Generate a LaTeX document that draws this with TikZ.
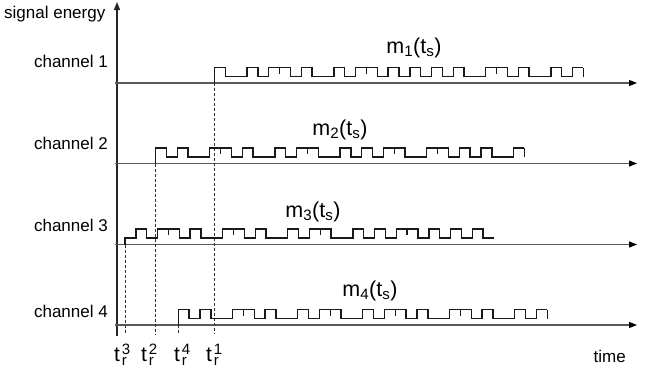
\documentclass[tikz,border=0pt]{standalone}
\usepackage{fontspec}
\setmainfont{Liberation Sans}
\usetikzlibrary{arrows.meta}
\def\wbw{10.85}
\def\whi{15.5}
\def\wlo{6.5}
\def\wtk{9.5}
\newcommand{\drawwave}[3]{%
  \draw[wave] (#1,#2) \foreach \b [count=\k from 0] in {#3} {
     -- ({#1+\k*\wbw},{#2-(\b==1?\whi:\wlo)}) -- ({#1+(\k+1)*\wbw},{#2-(\b==1?\whi:\wlo)})
  };
  \foreach \b [count=\k from 0, remember=\b as \prev (initially 0)] in {#3} {
    \ifnum\b\prev=11 \draw[wave] ({#1+\k*\wbw},{#2-\whi}) -- ({#1+\k*\wbw},{#2-\wtk}); \fi
  }
}
\begin{document}
\begin{tikzpicture}[x=1pt,y=-1pt,
  wave/.style={line width=1.4pt,black!90,line join=miter},
  hline/.style={line width=1.2pt,black!65,-{Triangle[length=8pt,width=6pt,color=black]}},
  vline/.style={line width=1.1pt,black!85,-{Triangle[length=8pt,width=6pt]}},
  dline/.style={line width=0.7pt,black!80,dash pattern=on 3pt off 2pt},
  lab/.style={inner sep=0pt,font=\fontsize{17}{20}\selectfont},
  mlab/.style={inner sep=0pt,font=\fontsize{21.5}{24}\selectfont},
  tlab/.style={inner sep=0pt,font=\fontsize{21}{24}\selectfont},
  slab/.style={inner sep=0pt,font=\fontsize{15}{17}\selectfont}]
\useasboundingbox (0,0) rectangle (645,372);
% axes
\coordinate (o) at (117,336);
\coordinate (ytop) at (117,2);
\draw[vline] (o) -- (ytop);
\coordinate (h1s) at (115,83);    \coordinate (h1e) at (637,83);
\coordinate (h2s) at (115,163.5); \coordinate (h2e) at (637,163.5);
\coordinate (h3s) at (115,244.5); \coordinate (h3e) at (637,244.5);
\coordinate (h4s) at (115,325);   \coordinate (h4e) at (637,325);
\draw[hline] (h1s) -- (h1e);
\draw[hline] (h2s) -- (h2e);
\draw[hline] (h3s) -- (h3e);
\draw[hline] (h4s) -- (h4e);
% dashed time markers
\coordinate (r1) at (214.5,83);   \coordinate (r1b) at (214.5,334);
\coordinate (r2) at (155.5,163.5);\coordinate (r2b) at (155.5,334);
\coordinate (r3) at (125,244.5);  \coordinate (r3b) at (125,334);
\coordinate (r4) at (178.3,325);  \coordinate (r4b) at (178.3,334);
\draw[dline] (r1) -- (r1b);
\draw[dline] (r2) -- (r2b);
\draw[dline] (r3) -- (r3b);
\draw[dline] (r4) -- (r4b);
% waveforms
\drawwave{214.5}{83}{1,0,0,1,0,1,1,0,1,0,0,1,0,1,1,0,1,0,1,0,1,0,1,0,0,1,1,0,1,0,0,1,0,1}
\draw[wave] ({214.5+34*\wbw},{83-\whi}) -- ({214.5+34*\wbw},{83-\wlo});
\drawwave{155.5}{163.5}{1,0,1,0,0,1,1,0,1,0,0,1,0,1,1,0,0,1,0,1,0,1,1,0,0,1,1,0,1,0,1,0,0,1}
\draw[wave] ({155.5+34*\wbw},{163.5-\whi}) -- ({155.5+34*\wbw},{163.5-\wlo});
\drawwave{125}{244.5}{0,1,0,1,1,0,1,0,0,1,1,0,1,0,0,1,0,1,1,0,0,1,0,1,0,1,1,0,1,0,1,0,1,0}
\drawwave{178.3}{325}{1,0,1,0,0,1,1,0,1,0,0,1,0,1,1,0,0,1,0,1,1,0,1,0,0,1,1,0,1,0,0,1,0,1}
\draw[wave] ({178.3+34*\wbw},{325-\whi}) -- ({178.3+34*\wbw},{325-\wlo});
% labels
\node[lab,anchor=base west] (se) at (4,19) {signal energy};
\node[lab,anchor=base east] (c1) at (108,67) {channel 1};
\node[lab,anchor=base east] (c2) at (108,149) {channel 2};
\node[lab,anchor=base east] (c3) at (108,231) {channel 3};
\node[lab,anchor=base east] (c4) at (108,317) {channel 4};
\node[lab,anchor=base east] (tm) at (626,362) {time};
\node[mlab,anchor=base] (m1) at (414,53) {m\textsubscript{1}(t\textsubscript{s})};
\node[mlab,anchor=base] (m2) at (340,135) {m\textsubscript{2}(t\textsubscript{s})};
\node[mlab,anchor=base] (m3) at (313,217) {m\textsubscript{3}(t\textsubscript{s})};
\node[mlab,anchor=base] (m4) at (370,296) {m\textsubscript{4}(t\textsubscript{s})};
% receive-time labels
\node[tlab,anchor=base west] (t3) at (114,361) {t};
\node[slab,anchor=base west] (t3u) at ([xshift=1.5pt,yshift=6.5pt]t3.base east) {3};
\node[slab,anchor=base west] (t3d) at ([xshift=1.5pt,yshift=-4pt]t3.base east) {r};
\node[tlab,anchor=base west] (t2) at (141,361) {t};
\node[slab,anchor=base west] (t2u) at ([xshift=1.5pt,yshift=6.5pt]t2.base east) {2};
\node[slab,anchor=base west] (t2d) at ([xshift=1.5pt,yshift=-4pt]t2.base east) {r};
\node[tlab,anchor=base west] (t4) at (174,361) {t};
\node[slab,anchor=base west] (t4u) at ([xshift=1.5pt,yshift=6.5pt]t4.base east) {4};
\node[slab,anchor=base west] (t4d) at ([xshift=1.5pt,yshift=-4pt]t4.base east) {r};
\node[tlab,anchor=base west] (t1) at (206,361) {t};
\node[slab,anchor=base west] (t1u) at ([xshift=1.5pt,yshift=6.5pt]t1.base east) {1};
\node[slab,anchor=base west] (t1d) at ([xshift=1.5pt,yshift=-4pt]t1.base east) {r};
\end{tikzpicture}
\end{document}
